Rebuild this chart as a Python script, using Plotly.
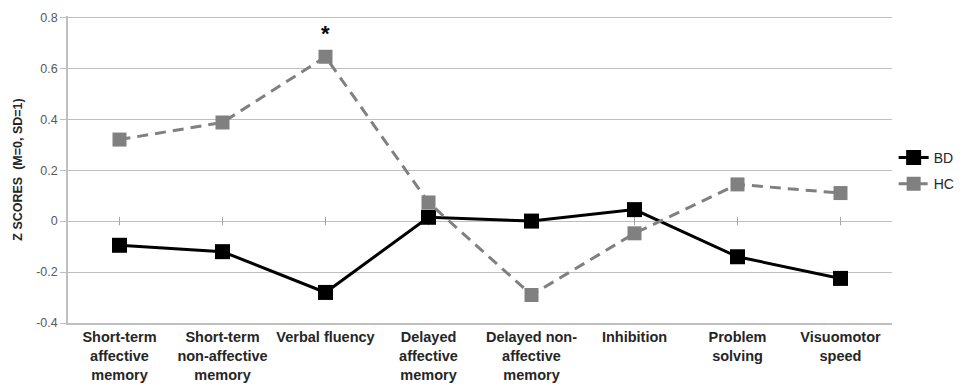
import plotly.graph_objects as go

categories = [
    "Short-term<br>affective<br>memory",
    "Short-term<br>non-affective<br>memory",
    "Verbal fluency",
    "Delayed<br>affective<br>memory",
    "Delayed non-<br>affective<br>memory",
    "Inhibition",
    "Problem<br>solving",
    "Visuomotor<br>speed",
]
bd_values = [-0.095, -0.12, -0.28, 0.015, 0.0, 0.045, -0.14, -0.225]
hc_values = [0.32, 0.387, 0.645, 0.073, -0.29, -0.048, 0.144, 0.11]
y_ticks = [-0.4, -0.2, 0, 0.2, 0.4, 0.6, 0.8]
y_tick_labels = ["-0.4", "-0.2", "0", "0.2", "0.4", "0.6", "0.8"]

x_idx = list(range(len(categories)))

fig = go.Figure()
# zero-line tick marks (category axis crossing at 0)
fig.add_trace(go.Scatter(
    x=x_idx, y=[0] * len(x_idx), mode="markers", showlegend=False, hoverinfo="skip",
    marker=dict(symbol="line-ns", size=6, line=dict(color="#a6a6a6", width=1)),
))
fig.add_trace(go.Scatter(
    x=x_idx, y=bd_values, name="BD", mode="lines+markers", legendgroup="a",
    line=dict(color="black", width=3),
    marker=dict(symbol="square", size=15, color="black"),
))
fig.add_trace(go.Scatter(
    x=x_idx, y=hc_values, name="HC", mode="lines+markers", legendgroup="b",
    line=dict(color="#808080", width=3, dash="11px,7px"),
    marker=dict(symbol="square", size=14, color="#808080"),
))

fig.add_annotation(x=2, y=0.735, text="<b>*</b>", showarrow=False,
                   font=dict(size=22, color="black", family="Liberation Sans"))

fig.update_layout(
    width=960, height=383,
    margin=dict(l=60, r=76, t=8, b=68, autoexpand=False),
    paper_bgcolor="white", plot_bgcolor="white",
    font=dict(family="Liberation Sans, Arial, sans-serif"),
    legend=dict(x=1.002, y=0.59, xanchor="left", yanchor="top",
                font=dict(size=14, color="#262626", family="Liberation Sans"),
                bgcolor="rgba(0,0,0,0)", tracegroupgap=5, traceorder="grouped"),
    xaxis=dict(
        range=[-0.5, len(categories) - 0.5], automargin=False,
        tickmode="array", tickvals=x_idx, ticktext=[f"<b>{c}</b>" for c in categories],
        tickfont=dict(size=14.5, color="#262626"),
        showgrid=False, zeroline=False,
        showline=True, linecolor="#bfbfbf", linewidth=1.5,
        ticks="", tickangle=0,
    ),
    yaxis=dict(
        range=[-0.4, 0.805], automargin=False,
        tickmode="array", tickvals=y_ticks, ticktext=y_tick_labels,
        tickfont=dict(size=12.5, color="#595959"),
        showgrid=True, gridcolor="#bfbfbf", gridwidth=1.2,
        zeroline=False,
        showline=True, linecolor="#bfbfbf", linewidth=1.5,
        ticks="outside", ticklen=6, tickcolor="#bfbfbf",
        title=dict(text="<b>Z SCORES  (M=0, SD=1)</b>", font=dict(size=12.5, color="#262626"), standoff=11),
    ),
)

fig.write_html("out.html")
